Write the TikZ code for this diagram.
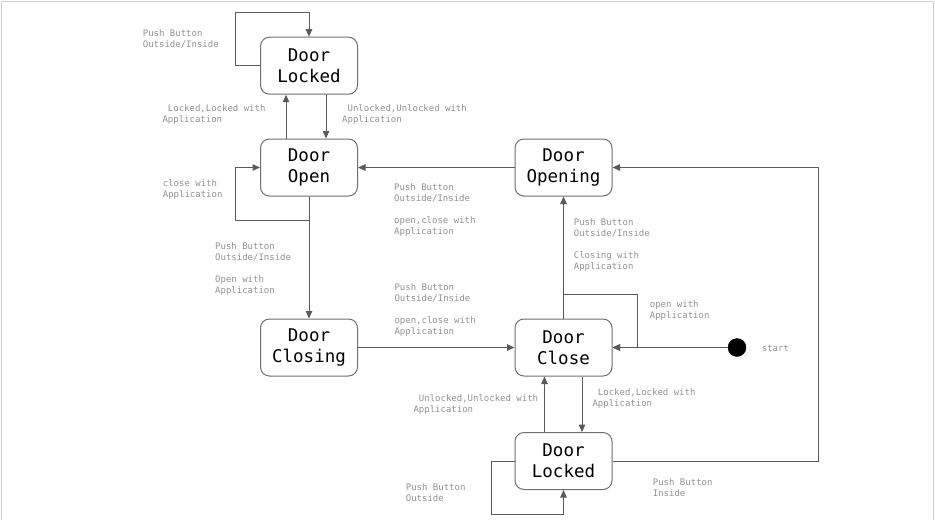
\documentclass[tikz,border=0pt]{standalone}
\usepackage{fontspec}
\newfontfamily\dmono{DejaVu Sans Mono}
\usetikzlibrary{arrows.meta,calc}
\definecolor{linec}{HTML}{5A5A5A}
\definecolor{boxc}{HTML}{707070}
\definecolor{labc}{HTML}{919191}
\definecolor{framec}{HTML}{D0D0D0}
\tikzset{
  statebox/.style={draw=boxc, line width=1pt, rounded corners=9pt, fill=white,
    minimum width=97pt, minimum height=57pt, align=center, inner sep=0pt,
    font=\dmono\fontsize{17.5}{20.7}\selectfont, text=black},
  lab/.style={anchor=west, align=left, inner sep=0pt, text=labc,
    font=\dmono\fontsize{9}{11}\selectfont},
  conn/.style={draw=linec, line width=1pt},
  arr/.style={conn, -{Triangle[length=7.5pt,width=6.5pt]}},
}
\begin{document}
\begin{tikzpicture}[x=1pt,y=-1pt]
\useasboundingbox (0,0) rectangle (935,520);
\draw[framec, line width=1pt] (1,520) -- (1,1) -- (933.5,1) -- (933.5,520);

% states
\node[statebox] (LT) at (309,65.7) {Door\\Locked};
\node[statebox] (OP) at (309,167.5) {Door\\Open};
\node[statebox] (OG) at (563.5,167.5) {Door\\Opening};
\node[statebox] (CG) at (309,347.5) {Door\\Closing};
\node[statebox] (CL) at (563.5,347.5) {Door\\Close};
\node[statebox] (LB) at (563.5,461) {Door\\Locked};
\node[circle, fill=black, draw=black, minimum size=18pt, inner sep=0pt] (S) at (737,347.5) {};

% connectors
\draw[arr] (LT.west) -- ++(-25,0) -- ++(0,-53) -| (LT.north);
\draw[arr] ([xshift=-23pt]OP.north) -- ([xshift=-23pt]LT.south);
\draw[arr] ([xshift=17pt]LT.south) -- ([xshift=17pt]OP.north);
\draw[arr] (OP.south) -- ++(0,24) -| ($(OP.west)+(-25,0)$) -- (OP.west);
\draw[arr] (OP.south) -- (CG.north);
\draw[arr] (OG.west) -- (OP.east);
\draw[arr] (CG.east) -- (CL.west);
\draw[arr] (CL.north) -- (OG.south);
\draw[arr] (CL.north) -- ++(0,-24.5) -| ($(CL.east)+(24.5,0)$) -- (CL.east);
\draw[arr] (S.west) -- (CL.east);
\draw[arr] ([xshift=18.5pt]CL.south) -- ([xshift=18.5pt]LB.north);
\draw[arr] ([xshift=-19pt]LB.north) -- ([xshift=-19pt]CL.south);
\draw[arr] (LB.west) -- ++(-23.5,0) -- ++(0,53.5) -| (LB.south);
\draw[arr] (LB.east) -- ++(205.7,0) |- (OG.east);

% labels
\node[lab] (l1) at (142.7,39) {Push Button\\Outside/Inside};
\node[lab] (l2) at (162.3,115) {\phantom{L}Locked,Locked with\\Application};
\node[lab] (l3) at (342,114.7) {\phantom{U}Unlocked,Unlocked with\\Application};
\node[lab] (l4) at (162.7,189) {close with\\Application};
\node[lab] (l5) at (394,210) {Push Button\\Outside/Inside\\[11pt]open,close with\\Application};
\node[lab] (l6) at (215,269.5) {Push Button\\Outside/Inside\\[11pt]Open with\\Application};
\node[lab] (l7) at (394.3,310.3) {Push Button\\Outside/Inside\\[11pt]open,close with\\Application};
\node[lab] (l8) at (573.7,245.2) {Push Button\\Outside/Inside\\[11pt]Closing with\\Application};
\node[lab] (l9) at (649.7,310.2) {open with\\Application};
\node[lab] (l10) at (761.7,348) {start};
\node[lab] (l11) at (413.3,404.3) {\phantom{U}Unlocked,Unlocked with\\Application};
\node[lab] (l12) at (592.3,399) {\phantom{L}Locked,Locked with\\Application};
\node[lab] (l13) at (405.7,492.5) {Push Button\\Outside};
\node[lab] (l14) at (652.7,487.2) {Push Button\\Inside};
\end{tikzpicture}
\end{document}
